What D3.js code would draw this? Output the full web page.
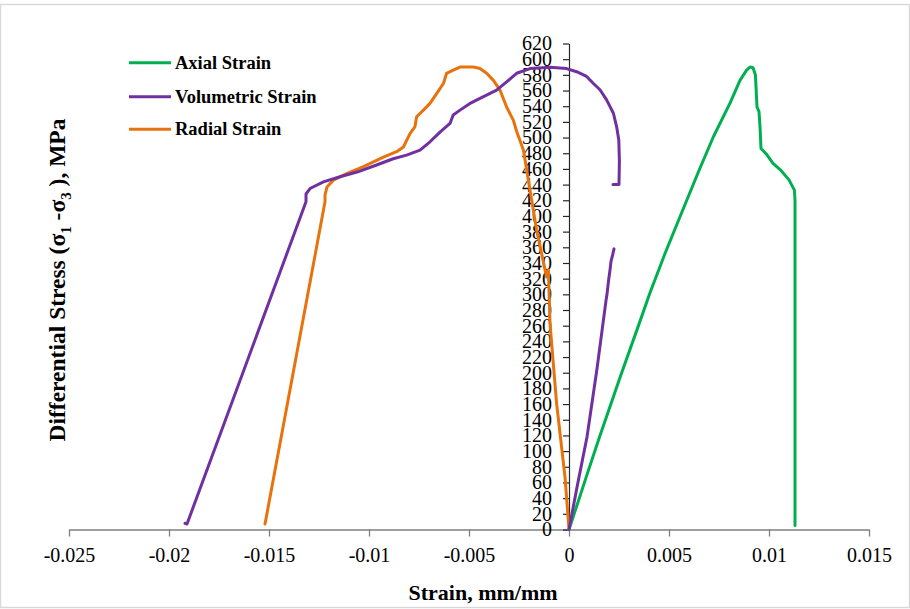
<!DOCTYPE html>
<html>
<head>
<meta charset="utf-8">
<script src="https://cdn.jsdelivr.net/npm/d3@7/dist/d3.min.js"></script>
<style>
  html, body { margin: 0; padding: 0; background: #fff; }
  svg { display: block; }
  .serif { font-family: "Liberation Serif", "Times New Roman", serif; }
</style>
</head>
<body>
<svg id="chart" width="910" height="609"></svg>
<script>
// Stress–strain curves: [strain (mm/mm), differential stress (MPa)]
const axialStrain = [
  [0, 0], [0.0004, 31], [0.0009, 70], [0.0015, 116], [0.002, 153], [0.00255, 194],
  [0.0035, 262], [0.00405, 302], [0.0048, 352], [0.00555, 399], [0.0065, 458],
  [0.00722, 501], [0.00805, 544], [0.00855, 573], [0.00888, 586], [0.00905, 590],
  [0.0092, 589], [0.00932, 580], [0.00935, 565], [0.0094, 539], [0.0095, 533],
  [0.00955, 514], [0.0096, 486], [0.0099, 478], [0.0102, 467], [0.0106, 458],
  [0.011, 446], [0.01127, 433], [0.0113, 420], [0.0113, 5]
];

// null marks a break in the recorded trace
const volumetricStrain = [
  [0, 0], [0.0004, 54], [0.0009, 118], [0.0014, 205], [0.00185, 292], [0.0019, 300],
  [0.00198, 318], [0.00205, 331], [0.0021, 342], [0.00218, 350], [0.00225, 358],
  null,
  [0.0022, 440], [0.0025, 440], [0.00252, 470], [0.00249, 497], [0.00238, 514],
  [0.00222, 531], [0.00188, 548], [0.00155, 561], [0.00122, 569], [0.00088, 578],
  [0.00038, 584], [-0.00012, 588], [-0.00095, 589.6], [-0.00195, 588],
  [-0.00262, 582], [-0.00312, 571], [-0.00362, 560.6], [-0.00445, 550], [-0.00495, 543.6],
  [-0.00545, 535], [-0.00579, 528.7], [-0.00595, 518], [-0.00645, 507], [-0.00695, 494.6],
  [-0.00745, 484], [-0.00812, 477.6], [-0.00879, 473], [-0.00962, 465], [-0.0106, 456],
  [-0.01145, 450], [-0.01228, 443.5], [-0.01295, 435], [-0.01315, 428], [-0.01315, 418],
  [-0.0191, 7], [-0.0192, 8]
];

const radialStrain = [
  [0, 0], [-0.0002, 67], [-0.00062, 161], [-0.00095, 263], [-0.00103, 331],
  [-0.00112, 322], [-0.00162, 382], [-0.00195, 433], [-0.00228, 484], [-0.00262, 508],
  [-0.00278, 522], [-0.00312, 539], [-0.00345, 560.6], [-0.00378, 573], [-0.00412, 582],
  [-0.00445, 588], [-0.00478, 590], [-0.00545, 590], [-0.00579, 586], [-0.00612, 582],
  [-0.00628, 569], [-0.00662, 556], [-0.00695, 543.6], [-0.00728, 535], [-0.00762, 526.5],
  [-0.0077, 514], [-0.00795, 505], [-0.00828, 488], [-0.00862, 482], [-0.00928, 475],
  [-0.00962, 471], [-0.01028, 463], [-0.01112, 454], [-0.01178, 445.7], [-0.0121, 437],
  [-0.0122, 426.5], [-0.0122, 418], [-0.0152, 7]
];

const seriesNames = ["Axial Strain", "Volumetric Strain", "Radial Strain"];
const seriesColors = ["#00b050", "#7030a0", "#e8720c"];

const xTicks = [-0.025, -0.02, -0.015, -0.01, -0.005, 0, 0.005, 0.01, 0.015];
const xTickLabels = ["-0.025", "-0.02", "-0.015", "-0.01", "-0.005", "0", "0.005", "0.01", "0.015"];
const yTicks = d3.range(0, 621, 20);

const svg = d3.select("#chart");

// outer frame
svg.append("rect")
  .attr("x", 0.5).attr("y", 4.5).attr("width", 909).attr("height", 603)
  .attr("fill", "none").attr("stroke", "#d9d9d9").attr("stroke-width", 1.5);

const x = d3.scaleLinear().domain([-0.025, 0.015]).range([69, 869]);
const y = d3.scaleLinear().domain([0, 620]).range([529.5, 43.5]);

// x axis along stress = 0
const xAxis = d3.axisBottom(x)
  .tickValues(xTicks)
  .tickFormat((d, i) => xTickLabels[i])
  .tickSizeInner(7).tickSizeOuter(0).tickPadding(11);
const gx = svg.append("g")
  .attr("transform", `translate(0,${y(0)})`)
  .call(xAxis);
gx.select(".domain").attr("stroke", "#7f7f7f").attr("stroke-width", 1.3);
gx.selectAll(".tick line").attr("stroke", "#7f7f7f").attr("stroke-width", 1.3);
gx.selectAll(".tick text")
  .attr("class", "serif").attr("font-size", 20).attr("fill", "#000");

// y axis at strain = 0
const yAxis = d3.axisLeft(y)
  .tickValues(yTicks)
  .tickSizeInner(6).tickSizeOuter(0).tickPadding(11);
const gy = svg.append("g")
  .attr("transform", `translate(${x(0)},0)`)
  .call(yAxis);
gy.select(".domain").attr("stroke", "#262626").attr("stroke-width", 1.2);
gy.selectAll(".tick line").attr("stroke", "#262626").attr("stroke-width", 1.2);
gy.selectAll(".tick text")
  .attr("class", "serif").attr("font-size", 20).attr("fill", "#000");

// curves
const line = d3.line()
  .defined(d => d !== null)
  .x(d => x(d[0]))
  .y(d => y(d[1]));

[radialStrain, axialStrain, volumetricStrain].forEach((data, k) => {
  const idx = [2, 0, 1][k];
  svg.append("path")
    .datum(data)
    .attr("d", line)
    .attr("fill", "none")
    .attr("stroke", seriesColors[idx])
    .attr("stroke-width", 3)
    .attr("stroke-linejoin", "round")
    .attr("stroke-linecap", "round");
});

// axis titles
svg.append("text")
  .attr("class", "serif")
  .attr("x", 483).attr("y", 600)
  .attr("text-anchor", "middle")
  .attr("font-size", 22).attr("font-weight", "bold")
  .text("Strain, mm/mm");

const yTitle = svg.append("text")
  .attr("class", "serif")
  .attr("transform", "translate(65,280) rotate(-90)")
  .attr("text-anchor", "middle")
  .attr("font-size", 23.5).attr("font-weight", "bold");
yTitle.append("tspan").text("Differential Stress (σ");
yTitle.append("tspan").attr("font-size", 15).attr("dy", 6).text("1");
yTitle.append("tspan").attr("dy", -6).text(" -σ");
yTitle.append("tspan").attr("font-size", 15).attr("dy", 6).text("3");
yTitle.append("tspan").attr("dy", -6).text(" ), MPa");

// legend
const legendY = [62.7, 96.7, 129.3];
const legend = svg.append("g");
seriesNames.forEach((name, i) => {
  legend.append("line")
    .attr("x1", 129).attr("x2", 171)
    .attr("y1", legendY[i]).attr("y2", legendY[i])
    .attr("stroke", seriesColors[i]).attr("stroke-width", 3);
  legend.append("text")
    .attr("class", "serif")
    .attr("x", 175).attr("y", legendY[i] + 6)
    .attr("font-size", 18.5).attr("font-weight", "bold")
    .text(name);
});
</script>
</body>
</html>
